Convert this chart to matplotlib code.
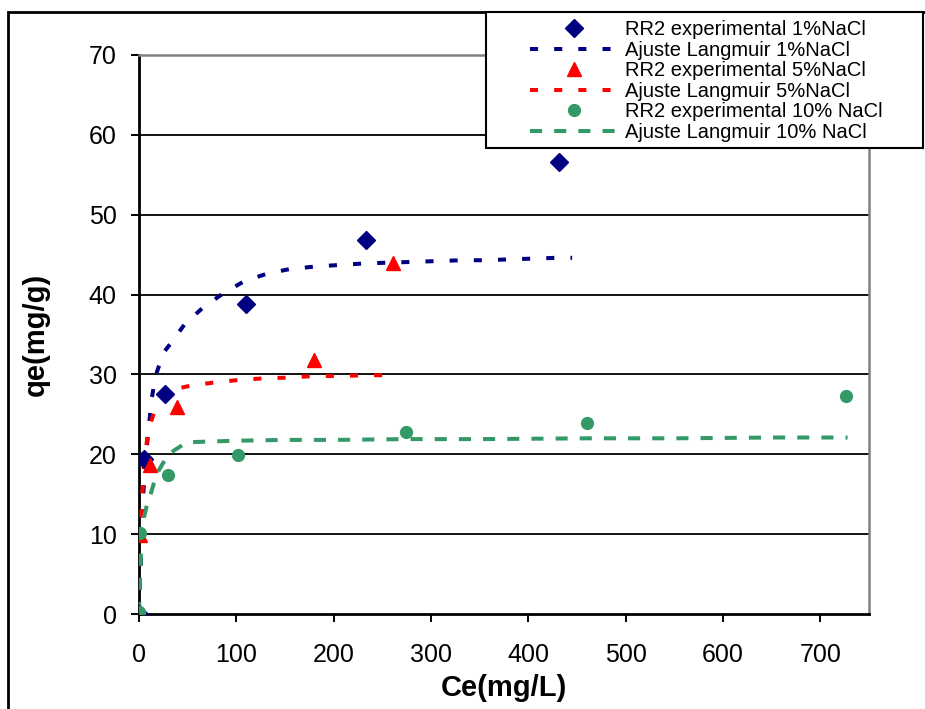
import matplotlib
matplotlib.use("Agg")
from matplotlib import pyplot as plt
from matplotlib.patches import Rectangle

plt.rcParams['font.family'] = ['Liberation Sans', 'DejaVu Sans']

# experimental points
ce_1 = [0, 5, 26.5, 110, 233, 432]
qe_1 = [0, 19.4, 27.6, 38.8, 46.8, 56.6]
ce_5 = [0, 1.5, 11.5, 39, 180, 260.5]
qe_5 = [0, 9.9, 18.7, 25.9, 31.8, 44.0]
ce_10 = [0, 1, 30, 101.5, 274.5, 460, 726.5]
qe_10 = [0.2, 10.1, 17.4, 19.9, 22.75, 23.9, 27.25]

# Langmuir fit curves
fit_x1 = [0, 1, 2, 4.4, 7, 13, 17, 25, 32, 47, 66, 86, 107, 131, 155, 180,
          205, 232, 257, 283, 307, 332, 356, 378, 404, 428, 445]
fit_y1 = [0, 3.8, 6.9, 15.0, 19.8, 26.9, 29.8, 32.7, 33.8, 36.3, 38.4, 40.1,
          41.6, 42.6, 43.2, 43.5, 43.7, 43.9, 44.0, 44.1, 44.2, 44.3, 44.3,
          44.4, 44.5, 44.6, 44.6]
fit_x5 = [0, 0.5, 1, 2.5, 5, 8, 10, 17, 27, 35, 53, 78, 102, 127, 152, 180,
          207, 232, 262]
fit_y5 = [0, 3.7, 6.6, 12.9, 18.6, 21.5, 23.2, 25.8, 27.3, 28.1, 28.6, 29.0,
          29.3, 29.5, 29.6, 29.8, 29.8, 29.9, 29.9]
fit_x10 = [0, 1, 2, 4.4, 8, 11, 18, 30, 49, 73, 100, 150, 200, 275, 350, 460,
           550, 650, 728]
fit_y10 = [0, 4.3, 7.5, 11.7, 13.6, 14.6, 17.5, 20.0, 21.5, 21.6, 21.7, 21.8,
           21.8, 21.9, 21.9, 22.0, 22.0, 22.1, 22.1]

labels = ['RR2 experimental 1%NaCl', 'Ajuste Langmuir 1%NaCl',
          'RR2 experimental 5%NaCl', 'Ajuste Langmuir 5%NaCl',
          'RR2 experimental 10% NaCl', 'Ajuste Langmuir 10% NaCl']

navy, red, green = '#000080', '#FF0000', '#339966'

W, H = 925, 709
fig = plt.figure(figsize=(W / 100, H / 100), dpi=100)
ax = fig.add_axes([139 / W, 1 - 614 / H, 730 / W, 559 / H])

h = []
h += ax.plot(ce_1, qe_1, 'D', color=navy, ms=9, ls='none', zorder=5)
h += ax.plot(fit_x1, fit_y1, color=navy, lw=2.9, dashes=(2, 4), zorder=3)
h += ax.plot(ce_5, qe_5, '^', color=red, ms=10, ls='none', zorder=5)
h += ax.plot(fit_x5, fit_y5, color=red, lw=2.9, dashes=(2, 4), zorder=3)
h += ax.plot(ce_10, qe_10, 'o', color=green, ms=8.5, ls='none', zorder=5)
h += ax.plot(fit_x10, fit_y10, color=green, lw=2.9, dashes=(3, 3), zorder=3)

ax.set_xlim(0, 750)
ax.set_ylim(0, 70)
ax.set_xticks(range(0, 800, 100))
ax.set_yticks(range(0, 80, 10))
for yv in range(10, 70, 10):
    ax.axhline(yv, color='black', lw=1.3, zorder=1)

for s in ['top', 'right']:
    ax.spines[s].set_color('#808080')
    ax.spines[s].set_linewidth(1.8)
for s in ['left', 'bottom']:
    ax.spines[s].set_color('black')
    ax.spines[s].set_linewidth(2)
ax.tick_params(axis='both', direction='out', length=6, width=1.4, labelsize=18)
ax.tick_params(axis='y', pad=10)
ax.tick_params(axis='x', pad=15)

ax.set_xlabel('Ce(mg/L)', fontsize=21, fontweight='bold', va='top')
ax.set_ylabel('qe(mg/g)', fontsize=21, fontweight='bold', va='center')
ax.xaxis.set_label_coords(0.5, -0.108)
ax.yaxis.set_label_coords(-0.141, 0.5)

# chart border and legend box
fig.patches.append(Rectangle((8 / W, -0.05), 1.1, 1 - 12 / H + 0.05,
                             transform=fig.transFigure, fill=False,
                             ec='black', lw=2))
fig.patches.append(Rectangle((486 / W, 1 - 148 / H), 437 / W, 136 / H,
                             transform=fig.transFigure, fc='white',
                             ec='black', lw=1.5, zorder=10))
leg = fig.legend(h, labels, loc='upper left',
                 bbox_to_anchor=(528 / W, 1 - 18 / H), frameon=False,
                 fontsize=14.5, handlelength=4.4, handletextpad=0.3,
                 labelspacing=0.08, borderpad=0.1, borderaxespad=0)
leg.set_zorder(11)

fig.savefig('out.png', dpi=100)
